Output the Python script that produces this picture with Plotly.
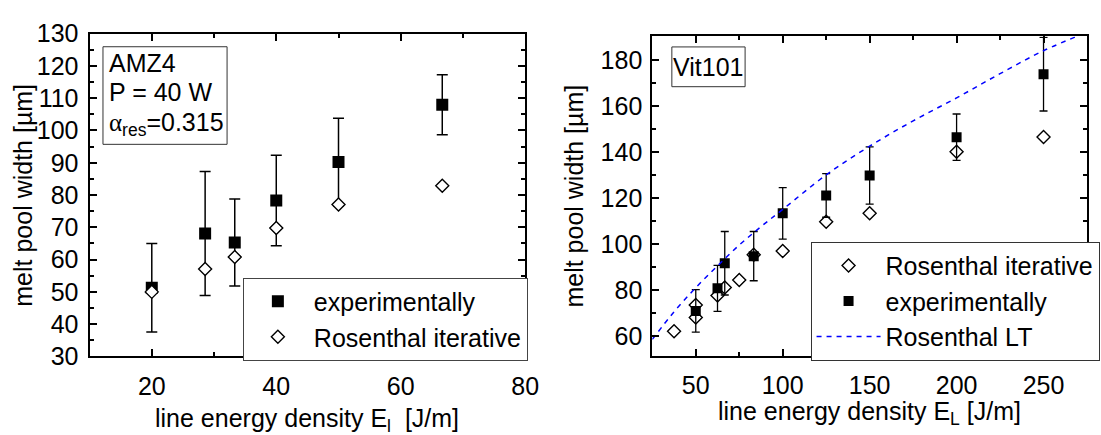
import plotly.graph_objects as go

# ---------------- data ----------------
# Left panel: AMZ4, P = 40 W
left_E = [20, 28.57, 33.33, 40, 50, 66.67]
left_exp = [51.3, 68.1, 65.3, 78.3, 90.2, 108.0]
left_exp_err = [13.7, 19.2, 13.5, 14.0, 13.6, 9.3]
left_ros = [50.0, 57.1, 60.8, 69.8, 77.1, 82.9]

# Right panel: Vit101
right_ros_E = [37.5, 50, 50, 62.5, 66.67, 75, 83.33, 100, 125, 150, 200, 250]
right_ros = [62.0, 73.5, 68.0, 77.6, 81.1, 84.3, 95.3, 96.9, 109.6, 113.3, 140.1, 146.5]
right_exp_E = [50, 62.5, 66.67, 83.33, 100, 125, 150, 200, 250]
right_exp = [70.9, 80.7, 91.6, 94.7, 113.3, 121.1, 129.75, 146.4, 173.8]
right_exp_err = [9.2, 10.0, 13.8, 10.7, 11.2, 9.5, 12.45, 10.1, 16.0]
lt_E = [25, 37.5, 50, 62.5, 75, 87.5, 100, 125, 150, 175, 200, 225, 250, 275]
lt_W = [58.5, 70.5, 81, 90.5, 99.5, 107.5, 115, 130, 142.5, 153.5, 163.5, 174, 184, 192]

FONT = "Liberation Sans, Arial, sans-serif"
FS = 25
W, H = 1101, 435

fig = go.Figure()

# left panel traces
fig.add_trace(go.Scatter(
    x=left_E, y=left_exp, mode="markers", name="experimentally",
    marker=dict(symbol="square", size=12, color="black", line=dict(width=0)),
    error_y=dict(type="data", array=left_exp_err, color="black", thickness=1.5, width=5.5),
    xaxis="x", yaxis="y", legend="legend"))
fig.add_trace(go.Scatter(
    x=left_E, y=left_ros, mode="markers", name="Rosenthal iterative",
    marker=dict(symbol="diamond", size=10, color="white", line=dict(width=1.4, color="black")),
    xaxis="x", yaxis="y", legend="legend"))

# right panel traces
fig.add_trace(go.Scatter(
    x=right_ros_E, y=right_ros, mode="markers", name="Rosenthal iterative",
    marker=dict(symbol="diamond", size=10, color="white", line=dict(width=1.4, color="black")),
    xaxis="x2", yaxis="y2", legend="legend2"))
fig.add_trace(go.Scatter(
    x=right_exp_E, y=right_exp, mode="markers", name="experimentally",
    marker=dict(symbol="square", size=10, color="black", line=dict(width=0)),
    error_y=dict(type="data", array=right_exp_err, color="black", thickness=1.3, width=4),
    xaxis="x2", yaxis="y2", legend="legend2"))
fig.add_trace(go.Scatter(
    x=lt_E, y=lt_W, mode="lines", name="Rosenthal LT",
    line=dict(color="#0000ff", width=1.5, dash="5px,5px", shape="spline"),
    xaxis="x2", yaxis="y2", legend="legend2"))

def ax(**kw):
    d = dict(showline=True, linecolor="black", linewidth=2, mirror="ticks",
             ticks="inside", ticklen=7, tickwidth=2, tickcolor="black",
             showgrid=False, zeroline=False,
             tickfont=dict(family=FONT, size=FS, color="black"))
    d.update(kw)
    return d

px = lambda v: v / W
py = lambda v: (H - v) / H
minor = lambda dt: dict(dtick=dt, tick0=0, ticks="inside", ticklen=4, tickwidth=2, tickcolor="black")

fig.update_layout(
    width=W, height=H, margin=dict(l=0, r=0, t=0, b=0),
    paper_bgcolor="white", plot_bgcolor="white",
    font=dict(family=FONT, size=FS, color="black"),
    xaxis=ax(domain=[px(90.7), px(532)], range=[10, 80], tick0=0, dtick=20,
             minor=minor(10), anchor="y", ticklabelstandoff=7),
    yaxis=ax(domain=[py(366), py(21)], range=[30, 130], tick0=0, dtick=10,
             minor=minor(5), anchor="x", ticklabelstandoff=4),
    xaxis2=ax(domain=[px(660.7), 1.0], range=[25, 275], tick0=0, dtick=50,
              minor=minor(25), anchor="y2", ticklabelstandoff=6),
    yaxis2=ax(domain=[py(365), py(24)], range=[51.5, 190.2], tick0=0, dtick=20,
              minor=minor(10), anchor="x2", ticklabelstandoff=3),
    legend=dict(x=px(246), xanchor="left", y=py(326), yanchor="middle",
                bordercolor="#444", borderwidth=1, bgcolor="white",
                font=dict(family=FONT, size=FS, color="black"), itemwidth=62,
                indentation=-2, tracegroupgap=0),
    legend2=dict(x=px(821), xanchor="left", y=py(307), yanchor="middle",
                 bordercolor="#333", borderwidth=1, bgcolor="white",
                 font=dict(family=FONT, size=FS, color="black"), itemwidth=64,
                 indentation=0, tracegroupgap=0),
    showlegend=True,
)

# text-box frames (paper-space rectangles)
shapes = [
    dict(type="rect", xref="paper", yref="paper",
         x0=px(104.3), x1=px(230), y0=py(139.3), y1=py(35),
         line=dict(color="#333", width=1), fillcolor="rgba(0,0,0,0)", layer="above"),
    dict(type="rect", xref="paper", yref="paper",
         x0=px(680.5), x1=px(754.7), y0=py(77.7), y1=py(35.2),
         line=dict(color="#333", width=1), fillcolor="rgba(0,0,0,0)", layer="above"),
]
fig.update_layout(shapes=shapes)

annots = [
    dict(text="AMZ4", x=px(108), y=py(52), xanchor="left", yanchor="middle"),
    dict(text="P = 40 W", x=px(108), y=py(83), xanchor="left", yanchor="middle"),
    dict(text="<span style=\"font-family:'Liberation Serif'\">α</span><sub>res</sub>=0.315",
         x=px(108), y=py(118), xanchor="left", yanchor="middle"),
    dict(text="Vit101", x=px(717.6), y=py(57), xanchor="center", yanchor="middle"),
    # axis titles
    dict(text="melt pool width [µm]", x=px(23), y=py(193.5), textangle=-90,
         xanchor="center", yanchor="middle"),
    dict(text="melt pool width [µm]", x=px(581), y=py(194.5), textangle=-90,
         xanchor="center", yanchor="middle"),
    dict(text="line energy density E<sub>l</sub>\u00a0\u00a0[J/m]", x=px(311), y=py(434),
         xanchor="center", yanchor="middle"),
    dict(text="line energy density E<sub>L</sub> [J/m]", x=px(881), y=py(426),
         xanchor="center", yanchor="middle"),
]
for a in annots:
    a.update(xref="paper", yref="paper", showarrow=False,
             font=dict(family=FONT, size=FS, color="black"))
fig.update_layout(annotations=annots)

fig.write_html("out.html")
